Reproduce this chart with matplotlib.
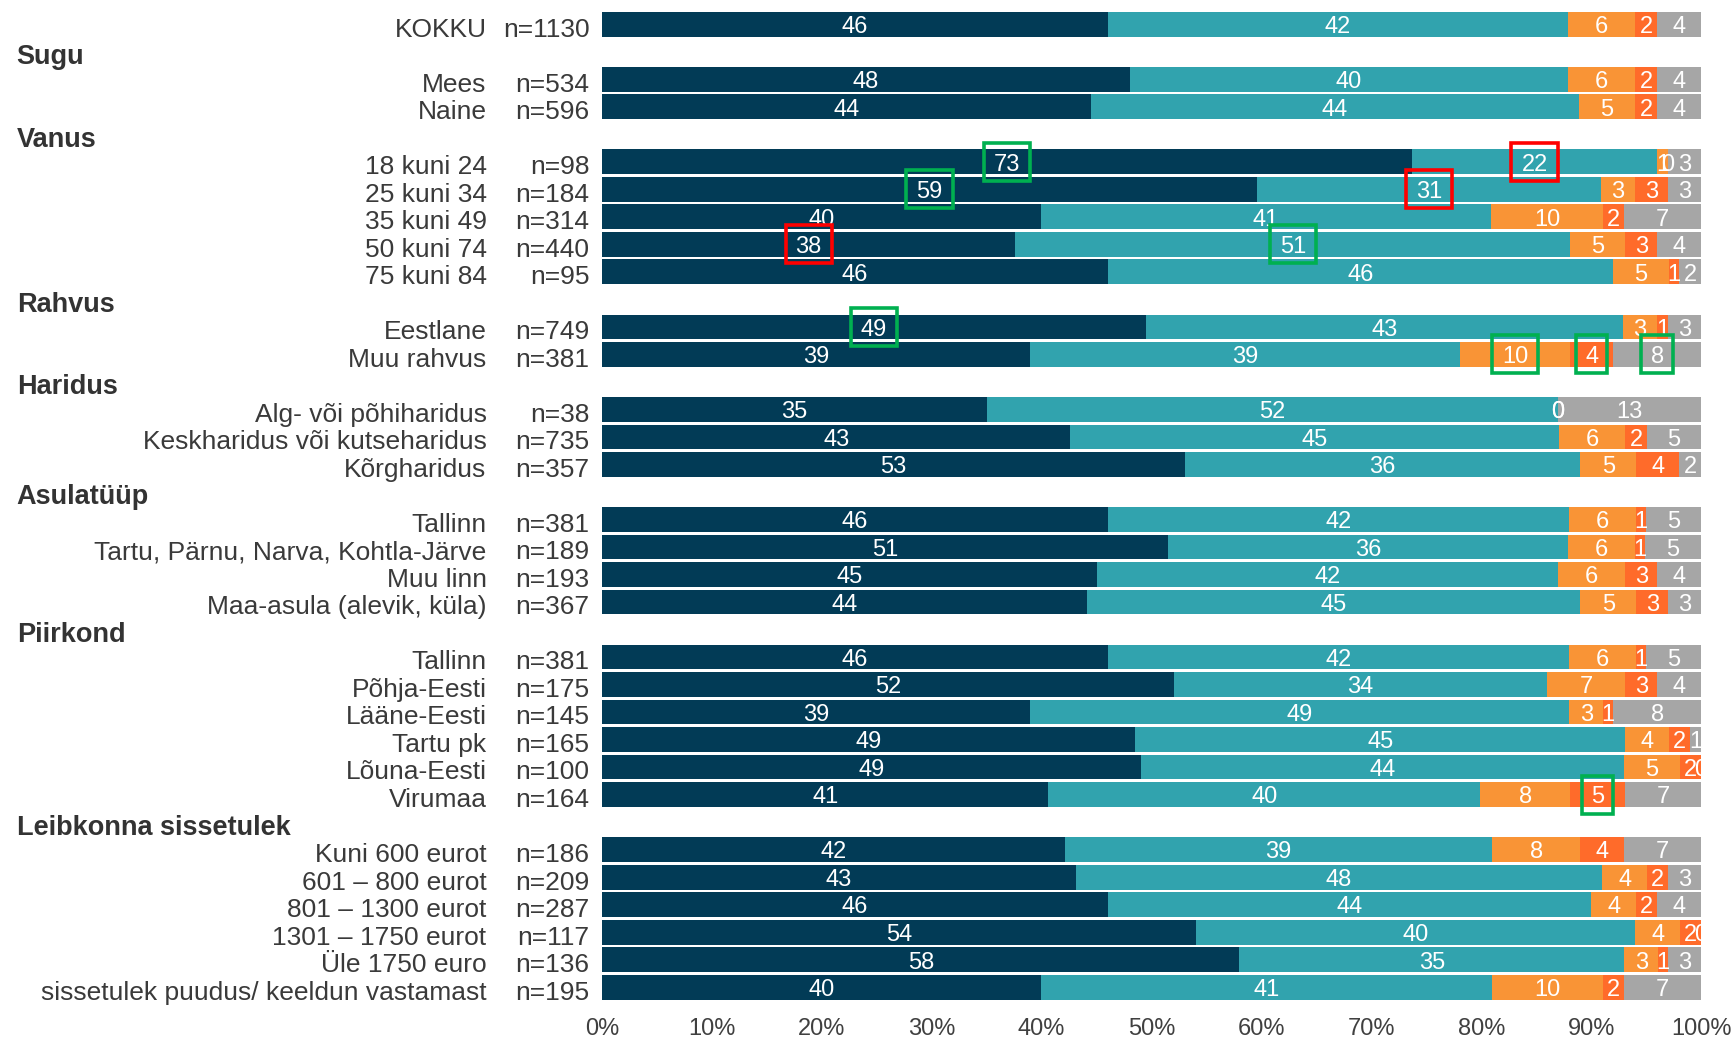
import matplotlib.pyplot as plt
from matplotlib.patches import Rectangle
from matplotlib.transforms import blended_transform_factory

plt.rcParams['font.family'] = ['Liberation Sans', 'DejaVu Sans']

# rows (KOKKU first, then groups)
top_label = "KOKKU"
group_names = ["Sugu", "Vanus", "Rahvus", "Haridus", "Asulatüüp", "Piirkond", "Leibkonna sissetulek"]
group_rows = [
    ["Mees", "Naine"],
    ["18 kuni 24", "25 kuni 34", "35 kuni 49", "50 kuni 74", "75 kuni 84"],
    ["Eestlane", "Muu rahvus"],
    ["Alg- või põhiharidus", "Keskharidus või kutseharidus", "Kõrgharidus"],
    ["Tallinn", "Tartu, Pärnu, Narva, Kohtla-Järve", "Muu linn", "Maa-asula (alevik, küla)"],
    ["Tallinn", "Põhja-Eesti", "Lääne-Eesti", "Tartu pk", "Lõuna-Eesti", "Virumaa"],
    ["Kuni 600 eurot", "601 – 800 eurot", "801 – 1300 eurot", "1301 – 1750 eurot",
     "Üle 1750 euro", "sissetulek puudus/ keeldun vastamast"],
]
n_labels = ["n=1130", "n=534", "n=596", "n=98", "n=184", "n=314", "n=440", "n=95",
            "n=749", "n=381", "n=38", "n=735", "n=357", "n=381", "n=189", "n=193",
            "n=367", "n=381", "n=175", "n=145", "n=165", "n=100", "n=164",
            "n=186", "n=209", "n=287", "n=117", "n=136", "n=195"]

# segment shares (%)
s1 = [46.0, 48.0, 44.5, 73.7, 59.6, 39.9, 37.6, 46.0, 49.5, 38.9, 35.0, 42.6, 53.0, 46.0, 51.5,
      45.0, 44.1, 46.0, 52.0, 38.9, 48.5, 49.0, 40.6, 42.1, 43.1, 46.0, 54.0, 58.0, 39.9]
s2 = [41.9, 39.9, 44.4, 22.3, 31.3, 41.0, 50.5, 46.0, 43.4, 39.2, 52.0, 44.5, 36.0, 42.0, 36.4,
      42.0, 44.9, 42.0, 34.0, 49.1, 44.6, 44.0, 39.3, 38.9, 47.9, 44.0, 40.0, 35.0, 41.1]
s3 = [6.1, 6.1, 5.1, 1.0, 3.1, 10.2, 5.0, 5.1, 3.1, 10.0, 0.0, 6.0, 5.1, 6.1, 6.1,
      6.1, 5.1, 6.1, 7.1, 3.1, 4.0, 5.1, 8.2, 8.0, 4.1, 4.1, 4.1, 3.1, 10.1]
s4 = [2.0, 2.0, 2.0, 0.0, 3.0, 1.9, 2.9, 0.9, 1.0, 3.9, 0.0, 2.0, 3.9, 0.9, 0.9,
      2.9, 2.9, 0.9, 2.9, 0.9, 1.9, 1.9, 5.0, 4.0, 1.9, 1.9, 1.9, 0.9, 1.9]
s5 = [4.0, 4.0, 4.0, 3.0, 3.0, 7.0, 4.0, 2.0, 3.0, 8.0, 13.0, 4.9, 2.0, 5.0, 5.1,
      4.0, 3.0, 5.0, 4.0, 8.0, 1.0, 0.0, 6.9, 7.0, 3.0, 4.0, 0.0, 3.0, 7.0]

# values printed on the bars
l1 = [46, 48, 44, 73, 59, 40, 38, 46, 49, 39, 35, 43, 53, 46, 51, 45, 44, 46, 52, 39, 49, 49, 41, 42, 43, 46, 54, 58, 40]
l2 = [42, 40, 44, 22, 31, 41, 51, 46, 43, 39, 52, 45, 36, 42, 36, 42, 45, 42, 34, 49, 45, 44, 40, 39, 48, 44, 40, 35, 41]
l3 = [6, 6, 5, 1, 3, 10, 5, 5, 3, 10, 0, 6, 5, 6, 6, 6, 5, 6, 7, 3, 4, 5, 8, 8, 4, 4, 4, 3, 10]
l4 = [2, 2, 2, 0, 3, 2, 3, 1, 1, 4, 0, 2, 4, 1, 1, 3, 3, 1, 3, 1, 2, 2, 5, 4, 2, 2, 2, 1, 2]
l5 = [4, 4, 4, 3, 3, 7, 4, 2, 3, 8, 13, 5, 2, 5, 5, 4, 3, 5, 4, 8, 1, 0, 7, 7, 3, 4, 0, 3, 7]

colors = ['#023B56', '#31A3AE', '#F99436', '#FF6B2A', '#A6A6A6']

# highlighted labels: (row, segment, colour)
highlights = [(3, 0, '#00B050'), (3, 1, '#FF0000'), (4, 0, '#00B050'), (4, 1, '#FF0000'),
              (6, 0, '#FF0000'), (6, 1, '#00B050'), (8, 0, '#00B050'),
              (9, 2, '#00B050'), (9, 3, '#00B050'), (9, 4, '#00B050'), (22, 3, '#00B050')]

# slot positions
cats = [top_label]
ypos = [0]
header_pos = []
slot = 1
for g, rows in zip(group_names, group_rows):
    header_pos.append(slot)
    slot += 1
    for r in rows:
        cats.append(r)
        ypos.append(slot)
        slot += 1
nslots = slot

fig = plt.figure(figsize=(17.34, 10.39), dpi=100)
ax = fig.add_axes([0.3472, 0.0366, 0.6338, 0.9533])

series = [s1, s2, s3, s4, s5]
labels = [l1, l2, l3, l4, l5]
left = [0.0] * len(cats)
centers = []
for vals, labs, col in zip(series, labels, colors):
    ax.barh(ypos, vals, left=left, height=0.9, color=col, linewidth=0)
    cs = []
    for i, (v, lab) in enumerate(zip(vals, labs)):
        c = left[i] + v / 2
        cs.append(c)
        ax.text(c, ypos[i] + 0.32, str(lab), ha='center', va='baseline', color='white',
                fontsize=17, clip_on=True, zorder=4)
    centers.append(cs)
    left = [a + b for a, b in zip(left, vals)]

# boxes around highlighted numbers
for r, s, col in highlights:
    w = 4.2 if len(str(labels[s][r])) > 1 else 2.85
    ax.add_patch(Rectangle((centers[s][r] - w / 2, ypos[r] - 0.69), w, 1.38,
                           fill=False, ec=col, lw=2.6, zorder=5, clip_on=False))

ax.set_xlim(0, 100)
ax.set_ylim(nslots - 0.5, -0.5)
ax.set_xticks(range(0, 101, 10))
ax.set_xticklabels([f"{t}%" for t in range(0, 101, 10)])
ax.tick_params(axis='x', length=0, pad=12, labelsize=17, labelcolor='#404040')
ax.set_yticks([])
for sp in ax.spines.values():
    sp.set_visible(False)

tr = blended_transform_factory(fig.transFigure, ax.transData)
for c, y, n in zip(cats, ypos, n_labels):
    ax.text(0.2806, y + 0.45, c, transform=tr, ha='right', va='baseline', fontsize=19, color='#3A3A3A')
    ax.text(0.3400, y + 0.45, n, transform=tr, ha='right', va='baseline', fontsize=19, color='#3A3A3A')
for g, y in zip(group_names, header_pos):
    ax.text(0.0096, y + 0.45, g, transform=tr, ha='left', va='baseline', fontsize=19.5,
            fontweight='bold', color='#333333')

fig.savefig('out.png', dpi=100)
